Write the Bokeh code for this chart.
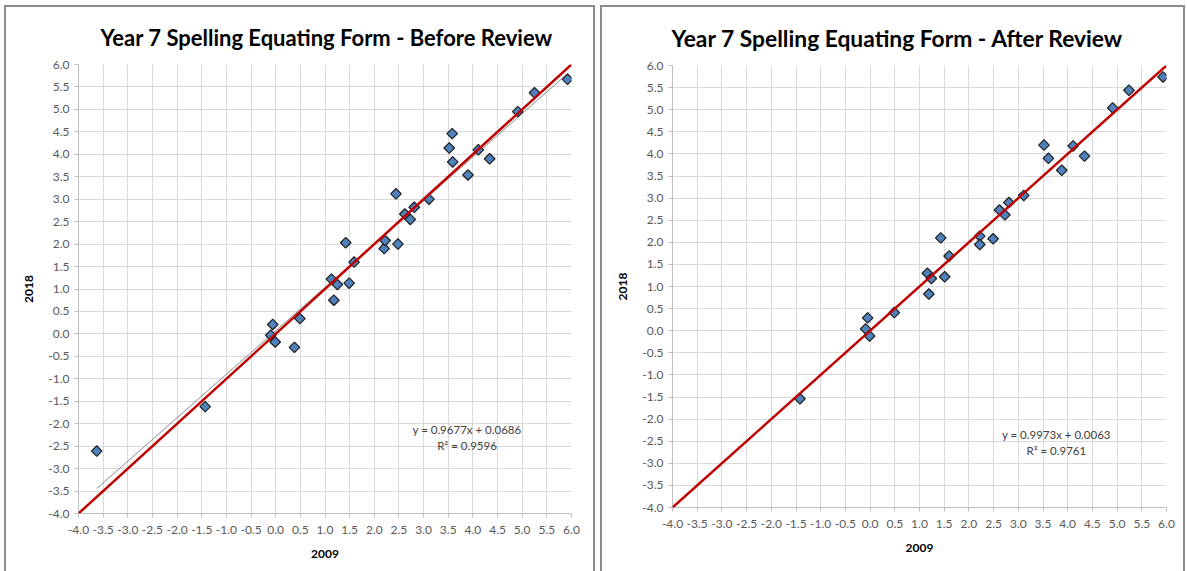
import numpy as np
from bokeh.plotting import figure
from bokeh.models import (Range1d, SingleIntervalTicker, NumeralTickFormatter,
                          Slope, Label, ColumnDataSource, Spacer, Title)
from bokeh.layouts import row, column
from bokeh.embed import file_html
from bokeh.resources import INLINE

# ---------------- data ----------------
x2009_before = [-3.63, -1.43, -0.10, -0.06, -0.01, 0.38, 0.49, 1.13, 1.18, 1.25,
                1.42, 1.49, 1.59, 2.20, 2.22, 2.44, 2.48, 2.62, 2.73, 2.81,
                3.11, 3.52, 3.58, 3.59, 3.90, 4.11, 4.34, 4.91, 5.25, 5.92]
y2018_before = [-2.61, -1.62, -0.03, 0.21, -0.18, -0.30, 0.34, 1.22, 0.75, 1.10,
                2.03, 1.13, 1.60, 1.90, 2.08, 3.12, 2.00, 2.67, 2.55, 2.82,
                3.00, 4.14, 4.46, 3.83, 3.54, 4.10, 3.90, 4.95, 5.37, 5.67]

x2009_after = [-1.42, -0.09, -0.05, -0.01, 0.49, 1.16, 1.19, 1.24, 1.43, 1.51,
               1.60, 2.22, 2.22, 2.49, 2.62, 2.73, 2.81, 3.11, 3.52, 3.61,
               3.88, 4.11, 4.34, 4.91, 5.24, 5.93]
y2018_after = [-1.54, 0.04, 0.29, -0.12, 0.41, 1.30, 0.83, 1.18, 2.10, 1.22,
               1.69, 2.14, 1.95, 2.08, 2.73, 2.62, 2.90, 3.06, 4.20, 3.90,
               3.63, 4.18, 3.95, 5.04, 5.44, 5.74]

fit_before = {"slope": 0.9677, "intercept": 0.0686, "r2": 0.9596}
fit_after = {"slope": 0.9973, "intercept": 0.0063, "r2": 0.9761}

titles = ["Year 7 Spelling Equating Form - Before Review",
          "Year 7 Spelling Equating Form - After Review"]
x_label = "2009"
y_label = "2018"
axis_min, axis_max, tick_step = -4.0, 6.0, 0.5

FONT = "Lato"
TICK_COLOR = "#595959"
GRID_COLOR = "#D9D9D9"
AXIS_COLOR = "#BFBFBF"
BORDER = "2px solid #8C8C8C"


def panel(title, xs, ys, fit, width, height, borders, title_offset, title_size,
          eq_pos, r2_pos):
    left, right, top, bottom = borders
    p = figure(width=width, height=height, output_backend="svg", toolbar_location=None,
               x_range=Range1d(axis_min, axis_max), y_range=Range1d(axis_min, axis_max),
               min_border_left=left, min_border_right=right,
               min_border_top=top, min_border_bottom=bottom,
               background_fill_color="white", border_fill_color="white")
    p.outline_line_color = None
    p.title = Title(text=title, align="left", offset=title_offset, standoff=28,
                    text_font=FONT, text_font_style="bold", text_font_size=title_size,
                    text_color="#000000")

    for ax in (p.xaxis[0], p.yaxis[0]):
        ax.ticker = SingleIntervalTicker(interval=tick_step, num_minor_ticks=0)
        ax.formatter = NumeralTickFormatter(format="0.0")
        ax.major_label_text_font = FONT
        ax.major_label_text_font_size = "12px"
        ax.major_label_text_color = TICK_COLOR
        ax.axis_line_color = AXIS_COLOR
        ax.major_tick_line_color = AXIS_COLOR
        ax.major_tick_out = 4
        ax.major_tick_in = 0
        ax.minor_tick_line_color = None
        ax.axis_label_text_font = FONT
        ax.axis_label_text_font_style = "bold"
        ax.axis_label_text_font_size = "12px"
        ax.axis_label_text_color = "#000000"
    p.xaxis.axis_label = x_label
    p.yaxis.axis_label = y_label
    p.xaxis.major_label_standoff = 8
    p.yaxis.major_label_standoff = 5
    p.xaxis.axis_label_standoff = 13
    p.yaxis.axis_label_standoff = 12

    for g in (p.xgrid[0], p.ygrid[0]):
        g.ticker = SingleIntervalTicker(interval=tick_step, num_minor_ticks=0)
        g.grid_line_color = GRID_COLOR
        g.grid_line_width = 1

    # linear trend line over the data span
    x_arr = np.array(xs)
    tx = np.array([x_arr.min(), x_arr.max()])
    p.line(tx, fit["slope"] * tx + fit["intercept"], line_color="#8C8C8C", line_width=1)

    # identity line y = x
    p.add_layout(Slope(gradient=1, y_intercept=0, line_color="#C00000", line_width=2.5))

    src = ColumnDataSource(dict(x=xs, y=ys))
    p.scatter("x", "y", source=src, marker="square", angle=np.pi / 4, size=7.5,
              fill_color="#4F81BD", line_color="#1F1F1F", line_width=1.2)

    eq = f"y = {fit['slope']:.4f}x + {fit['intercept']:.4f}"
    r2 = f"R² = {fit['r2']:.4f}"
    for txt, (lx, ly) in ((eq, eq_pos), (r2, r2_pos)):
        p.add_layout(Label(x=lx, y=ly, text=txt, text_align="center", text_baseline="middle",
                           text_font=FONT, text_font_size="11.5px", text_color="#404040"))
    return p


p1 = panel(titles[0], x2009_before, y2018_before, fit_before, 587, 564,
           (72, 22, 56, 58), 22, "22px", (3.88, -2.13), (3.88, -2.49))
p2 = panel(titles[1], x2009_after, y2018_after, fit_after, 581, 564,
           (70, 17, 57, 64), -1, "22.8px", (3.77, -2.35), (3.77, -2.71))

box_style = {"border-left": BORDER, "border-top": BORDER, "border-right": BORDER}
box1 = column(p1, styles=box_style)
box2 = column(p2, styles=box_style)

layout = column(Spacer(height=5),
                row(Spacer(width=4), box1, Spacer(width=5), box2))
open("out.html", "w").write(file_html(layout, INLINE))
